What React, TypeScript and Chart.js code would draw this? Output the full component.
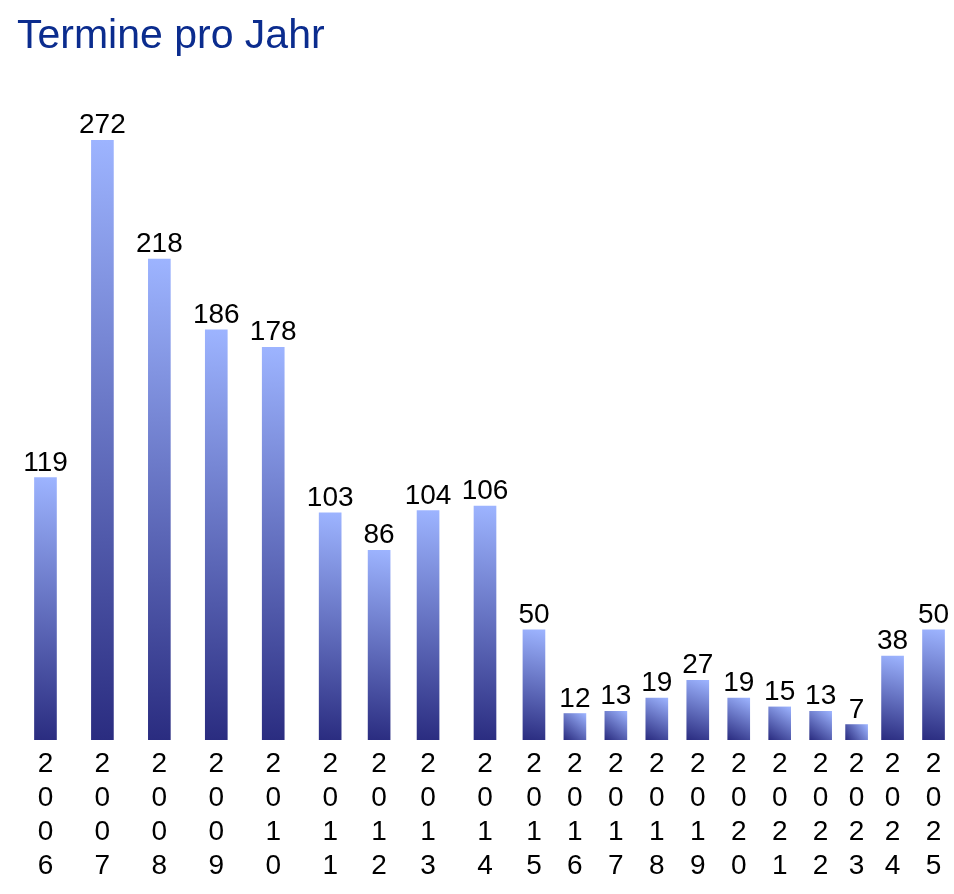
import React, { useEffect, useRef } from "react";
import { Chart, registerables } from "chart.js";

Chart.register(...registerables);

const TITLE = "Termine pro Jahr";
const YEARS = [
  "2006", "2007", "2008", "2009", "2010", "2011", "2012", "2013", "2014", "2015",
  "2016", "2017", "2018", "2019", "2020", "2021", "2022", "2023", "2024", "2025",
];
const VALUES = [119, 272, 218, 186, 178, 103, 86, 104, 106, 50, 12, 13, 19, 27, 19, 15, 13, 7, 38, 50];

// Layout rule: each column's slot width depends on the width of its value label
const SLOT_BY_DIGITS: Record<number, number> = { 1: 31, 2: 41, 3: 57 };
const FONT_FAMILY = "Arial, 'Liberation Sans', sans-serif";
const TITLE_COLOR = "#0b2c8e";
const BAR_TOP = "#9db4ff";
const BAR_BOTTOM = "#2a2c80";

export default function App() {
  const canvasRef = useRef<HTMLCanvasElement | null>(null);

  useEffect(() => {
    document.body.style.margin = "0";
    const canvas = canvasRef.current;
    if (!canvas) return;

    const slots = VALUES.map((v) => SLOT_BY_DIGITS[String(v).length] ?? 41);
    const centers: number[] = [];
    let acc = 0;
    slots.forEach((s) => {
      centers.push(acc + s / 2);
      acc += s;
    });
    const total = acc;

    const titlePlugin = {
      id: "titleText",
      afterDraw(chart: any) {
        const c = chart.ctx;
        c.save();
        c.font = `41px ${FONT_FAMILY}`;
        c.fillStyle = TITLE_COLOR;
        c.textAlign = "left";
        c.textBaseline = "alphabetic";
        c.fillText(TITLE, 17, 48);
        c.restore();
      },
    };

    const valueLabels = {
      id: "valueLabels",
      afterDatasetsDraw(chart: any) {
        const c = chart.ctx;
        const meta = chart.getDatasetMeta(0);
        c.save();
        c.font = `28px ${FONT_FAMILY}`;
        c.fillStyle = "#000";
        c.textAlign = "center";
        c.textBaseline = "alphabetic";
        meta.data.forEach((el: any, i: number) => {
          c.fillText(String(VALUES[i]), el.x, el.y - 7);
        });
        c.restore();
      },
    };

    const chart = new Chart(canvas, {
      type: "bar",
      data: {
        datasets: [
          {
            data: centers.map((x, i) => ({ x, y: VALUES[i] })),
            barThickness: 22,
            borderWidth: 0,
            backgroundColor: (ctx: any) => {
              const ch = ctx.chart;
              if (!ch.chartArea || !ctx.parsed) return BAR_BOTTOM;
              const ys = ch.scales.y;
              const xs = ch.scales.x;
              const top = ys.getPixelForValue(ctx.parsed.y);
              const bottom = ys.getPixelForValue(0);
              const xp = xs.getPixelForValue(ctx.parsed.x);
              const g = ch.ctx.createLinearGradient(xp - 11, bottom, xp + 11, top);
              g.addColorStop(0, BAR_BOTTOM);
              g.addColorStop(1, BAR_TOP);
              return g;
            },
          },
        ],
      },
      options: {
        animation: false,
        responsive: true,
        maintainAspectRatio: false,
        layout: { padding: { top: 140, left: 17, right: 0, bottom: 0 } },
        plugins: {
          legend: { display: false },
          tooltip: { enabled: false },
          title: { display: false },
        },
        scales: {
          x: {
            type: "linear",
            offset: false,
            min: 0,
            max: total,
            grid: { display: false, drawTicks: false },
            border: { display: false },
            afterBuildTicks: (axis: any) => {
              axis.ticks = centers.map((v) => ({ value: v }));
            },
            afterFit: (axis: any) => {
              axis.height = 154;
            },
            ticks: {
              autoSkip: false,
              maxRotation: 0,
              minRotation: 0,
              padding: 7,
              color: "#000",
              font: { family: FONT_FAMILY, size: 28, lineHeight: 1.22 },
              callback: (_v: any, i: number) => YEARS[i].split(""),
            },
          },
          y: {
            display: false,
            min: 0,
            max: Math.max(...VALUES),
          },
        },
      },
      plugins: [titlePlugin, valueLabels],
    });

    return () => chart.destroy();
  }, []);

  return (
    <div style={{ width: 954, height: 894, position: "relative" }}>
      <canvas ref={canvasRef} />
    </div>
  );
}
